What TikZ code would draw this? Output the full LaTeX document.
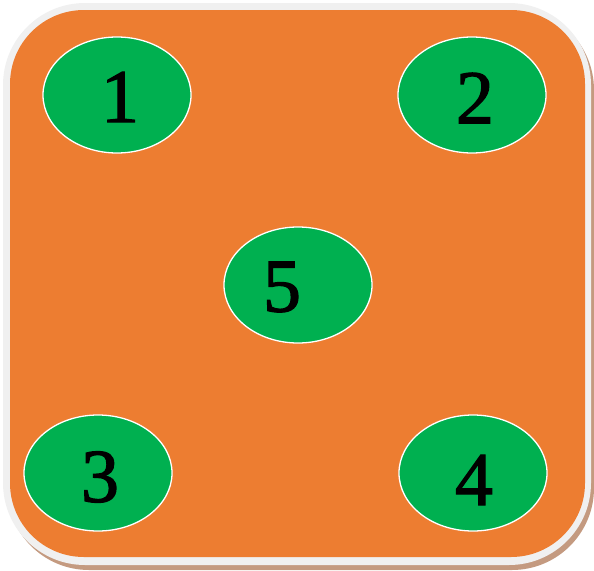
\documentclass[tikz,border=0pt]{standalone}
\usepackage{fontspec}
\setmainfont{Liberation Serif}
\newfontfamily\numfont[FakeBold=1.6]{Liberation Serif}
\usetikzlibrary{shapes.geometric}
\definecolor{dieorange}{HTML}{ED7D31}
\definecolor{diegreen}{HTML}{00B050}
\definecolor{diegray}{HTML}{F0F0F0}
\definecolor{dieshadow}{HTML}{C49A80}
\begin{document}
\begin{tikzpicture}[x=1pt,y=-1pt,
  pip/.style={ellipse,draw=white,line width=1.3pt,fill=diegreen,minimum width=148pt,minimum height=116pt,inner sep=0pt},
  num/.style={font=\numfont\fontsize{76}{76}\selectfont,text=black,inner sep=0pt}]
\useasboundingbox (0,0) rectangle (594,570);
\fill[dieshadow,rounded corners=82pt] (7,8) rectangle (594,570);
\fill[diegray,rounded corners=82pt] (3,3) rectangle (591,565);
\fill[dieorange,rounded corners=74pt] (10,10) rectangle (585,557);
\node[pip] (p1) at (117,95) {};
\node[pip] (p2) at (472,95) {};
\node[pip] (p5) at (298,285) {};
\node[pip] (p3) at (98,473) {};
\node[pip] (p4) at (473,473) {};
\node[num] (t1) at ([shift={(3,2)}]p1.center) {1};
\node[num] (t2) at ([shift={(3,3)}]p2.center) {2};
\node[num] (t5) at ([shift={(-16,2)}]p5.center) {5};
\node[num] (t3) at ([shift={(2,4)}]p3.center) {3};
\node[num] (t4) at ([shift={(1,7)}]p4.center) {4};
\end{tikzpicture}
\end{document}
